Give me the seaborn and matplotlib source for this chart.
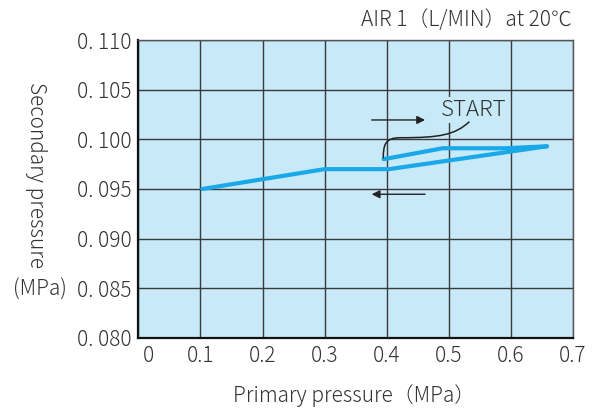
import numpy as np
import pandas as pd
import matplotlib
matplotlib.use('Agg')
import matplotlib.pyplot as plt
import matplotlib.transforms as mtransforms
from matplotlib.path import Path
from matplotlib.patches import PathPatch
import seaborn as sns

# 上升（START 起点）与回落两段曲线
up_x = [0.395, 0.49, 0.59, 0.658]
up_y = [0.0980, 0.0991, 0.0991, 0.0993]
down_x = [0.658, 0.404, 0.30, 0.103]
down_y = [0.0993, 0.0970, 0.0970, 0.0950]

x_ticks = [0, 0.1, 0.2, 0.3, 0.4, 0.5, 0.6, 0.7]
x_labels = ['0', '0.1', '0.2', '0.3', '0.4', '0.5', '0.6', '0.7']
y_ticks = [0.080, 0.085, 0.090, 0.095, 0.100, 0.105, 0.110]
y_labels = ['0. 080', '0. 085', '0. 090', '0. 095', '0. 100', '0. 105', '0. 110']

bg = '#c7e9f8'
line_c = '#1aa9e8'
txt_c = '#333333'
fs = 15

sns.set_theme(style='white')
plt.rcParams['font.family'] = ['Noto Sans CJK JP', 'DejaVu Sans']
plt.rcParams['font.weight'] = 'light'

fig = plt.figure(figsize=(5.98, 4.09), dpi=100)
ax = fig.add_axes([0.2313, 0.1736, 0.9582 - 0.2313, 0.9022 - 0.1736])
ax.set_facecolor(bg)

df_up = pd.DataFrame({'x': up_x, 'y': up_y})
df_down = pd.DataFrame({'x': down_x, 'y': down_y})
sns.lineplot(data=df_up, x='x', y='y', sort=False, color=line_c, lw=3, ax=ax, zorder=4)
sns.lineplot(data=df_down, x='x', y='y', sort=False, color=line_c, lw=3, ax=ax, zorder=4)

ax.set_xlim(0, 0.7)
ax.set_ylim(0.080, 0.110)
ax.set_xticks(x_ticks)
ax.set_xticklabels(x_labels)
ax.set_yticks(y_ticks)
ax.set_yticklabels(y_labels)
ax.tick_params(axis='both', length=0, labelsize=fs, labelcolor=txt_c)
ax.tick_params(axis='x', pad=5)
ax.tick_params(axis='y', pad=5)
# "0" 标签稍向右偏
lab0 = ax.get_xticklabels()[0]
lab0.set_transform(lab0.get_transform() + mtransforms.ScaledTranslation(10 / 100, 0, fig.dpi_scale_trans))

ax.grid(True, color='#3a3a3a', lw=1)
ax.set_axisbelow(True)
for s in ['top', 'right']:
    ax.spines[s].set_color('#555555')
    ax.spines[s].set_linewidth(1)
for s in ['left', 'bottom']:
    ax.spines[s].set_color('#111111')
    ax.spines[s].set_linewidth(1.6)
ax.set_xlabel('')
ax.set_ylabel('')

# 方向箭头
arrow_kw = dict(arrowstyle='-|>', color='#222222', lw=1, mutation_scale=12, shrinkA=0, shrinkB=0)
ax.annotate('', xy=(0.4618, 0.10195), xytext=(0.3758, 0.10195), arrowprops=arrow_kw, zorder=5)
ax.annotate('', xy=(0.3758, 0.09447), xytext=(0.4618, 0.09447), arrowprops=arrow_kw, zorder=5)

# START 标注
ax.text(0.540, 0.10298, 'START', ha='center', va='center', fontsize=fs + 1, color=txt_c,
        bbox=dict(facecolor=bg, edgecolor='none', pad=1.5), zorder=5)
verts = [(0.5331, 0.10178), (0.510, 0.10044), (0.4858, 0.10016), (0.4214, 0.10016),
         (0.3972, 0.10016), (0.3945, 0.09943), (0.3945, 0.09809)]
codes = [Path.MOVETO, Path.CURVE4, Path.CURVE4, Path.CURVE4, Path.CURVE4, Path.CURVE4, Path.CURVE4]
ax.add_patch(PathPatch(Path(verts, codes), facecolor='none', edgecolor='#222222', lw=1.1, zorder=5))

# 标题与坐标轴标题
fig.text(572 / 598, 1 - 20 / 409, 'AIR 1（L/MIN）at 20℃', ha='right', va='center', fontsize=fs, color=txt_c)
fig.text(354 / 598, 1 - 396 / 409, 'Primary pressure（MPa）', ha='center', va='center', fontsize=fs, color=txt_c)
fig.text(36 / 598, 1 - 175 / 409, 'Secondary pressure', rotation=270, ha='center', va='center', fontsize=fs, color=txt_c)
fig.text(40 / 598, 1 - 290 / 409, '(MPa)', ha='center', va='center', fontsize=fs, color=txt_c)

fig.savefig('out.png', dpi=100, facecolor='white')
